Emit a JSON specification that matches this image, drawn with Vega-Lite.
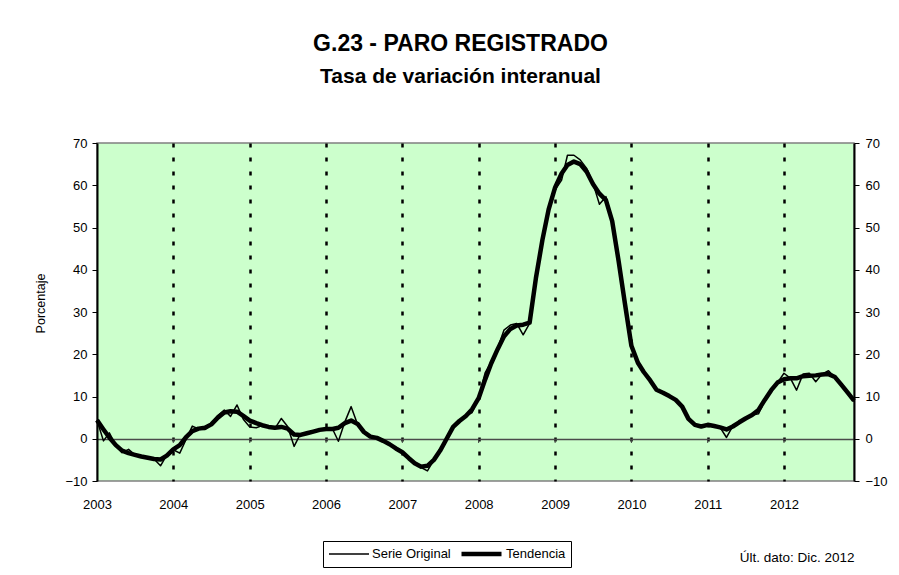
{
  "$schema": "https://vega.github.io/schema/vega-lite/v6.json",
  "width": 757,
  "height": 338,
  "autosize": {"type": "none"},
  "padding": {"left": 97, "top": 143, "right": 45, "bottom": 94},
  "background": "white",
  "config": {
    "font": "Liberation Sans",
    "view": {"fill": "#CCFFCC", "stroke": "#808080", "strokeWidth": 1.5}
  },
  "title": {
    "text": "G.23 - PARO REGISTRADO",
    "subtitle": "Tasa de variación interanual",
    "anchor": "middle",
    "frame": "group",
    "dx": -15,
    "offset": 50,
    "font": "Liberation Sans",
    "fontSize": 23,
    "fontWeight": "bold",
    "color": "black",
    "subtitleFont": "Liberation Sans",
    "subtitleFontSize": 21,
    "subtitleFontWeight": "bold",
    "subtitleColor": "black",
    "subtitlePadding": 10
  },
  "datasets": {
    "years": [
      {"fecha": "2004-01-01"}, {"fecha": "2005-01-01"}, {"fecha": "2006-01-01"},
      {"fecha": "2007-01-01"}, {"fecha": "2008-01-01"}, {"fecha": "2009-01-01"},
      {"fecha": "2010-01-01"}, {"fecha": "2011-01-01"}, {"fecha": "2012-01-01"}
    ],
    "paro": [
      {"fecha": "2003-01-01", "Serie Original": 4.4, "Tendencia": 4.4},
      {"fecha": "2003-02-01", "Serie Original": -0.5, "Tendencia": 2.2},
      {"fecha": "2003-03-01", "Serie Original": 1.4, "Tendencia": 0.3},
      {"fecha": "2003-04-01", "Serie Original": -1.5, "Tendencia": -1.5},
      {"fecha": "2003-05-01", "Serie Original": -3.3, "Tendencia": -2.8},
      {"fecha": "2003-06-01", "Serie Original": -2.5, "Tendencia": -3.4},
      {"fecha": "2003-07-01", "Serie Original": -3.8, "Tendencia": -3.8},
      {"fecha": "2003-08-01", "Serie Original": -4.2, "Tendencia": -4.2},
      {"fecha": "2003-09-01", "Serie Original": -4.5, "Tendencia": -4.5},
      {"fecha": "2003-10-01", "Serie Original": -4.8, "Tendencia": -4.8},
      {"fecha": "2003-11-01", "Serie Original": -6.4, "Tendencia": -4.9},
      {"fecha": "2003-12-01", "Serie Original": -3.8, "Tendencia": -4.0},
      {"fecha": "2004-01-01", "Serie Original": -2.6, "Tendencia": -2.5},
      {"fecha": "2004-02-01", "Serie Original": -3.4, "Tendencia": -1.5},
      {"fecha": "2004-03-01", "Serie Original": -0.3, "Tendencia": 0.3},
      {"fecha": "2004-04-01", "Serie Original": 3.0, "Tendencia": 1.8},
      {"fecha": "2004-05-01", "Serie Original": 2.3, "Tendencia": 2.4},
      {"fecha": "2004-06-01", "Serie Original": 2.2, "Tendencia": 2.6},
      {"fecha": "2004-07-01", "Serie Original": 3.5, "Tendencia": 3.4},
      {"fecha": "2004-08-01", "Serie Original": 5.5, "Tendencia": 5.0},
      {"fecha": "2004-09-01", "Serie Original": 6.8, "Tendencia": 6.2},
      {"fecha": "2004-10-01", "Serie Original": 5.3, "Tendencia": 6.5},
      {"fecha": "2004-11-01", "Serie Original": 8.0, "Tendencia": 6.4},
      {"fecha": "2004-12-01", "Serie Original": 4.6, "Tendencia": 5.4},
      {"fecha": "2005-01-01", "Serie Original": 2.8, "Tendencia": 4.3},
      {"fecha": "2005-02-01", "Serie Original": 2.6, "Tendencia": 3.7},
      {"fecha": "2005-03-01", "Serie Original": 3.1, "Tendencia": 3.2},
      {"fecha": "2005-04-01", "Serie Original": 2.7, "Tendencia": 2.8},
      {"fecha": "2005-05-01", "Serie Original": 2.4, "Tendencia": 2.6},
      {"fecha": "2005-06-01", "Serie Original": 4.8, "Tendencia": 2.8},
      {"fecha": "2005-07-01", "Serie Original": 2.9, "Tendencia": 2.4},
      {"fecha": "2005-08-01", "Serie Original": -1.8, "Tendencia": 1.0},
      {"fecha": "2005-09-01", "Serie Original": 1.2, "Tendencia": 0.9},
      {"fecha": "2005-10-01", "Serie Original": 1.3, "Tendencia": 1.3},
      {"fecha": "2005-11-01", "Serie Original": 1.7, "Tendencia": 1.7},
      {"fecha": "2005-12-01", "Serie Original": 2.1, "Tendencia": 2.1},
      {"fecha": "2006-01-01", "Serie Original": 2.4, "Tendencia": 2.3},
      {"fecha": "2006-02-01", "Serie Original": 2.3, "Tendencia": 2.3},
      {"fecha": "2006-03-01", "Serie Original": -0.6, "Tendencia": 2.6},
      {"fecha": "2006-04-01", "Serie Original": 4.0, "Tendencia": 3.7},
      {"fecha": "2006-05-01", "Serie Original": 7.6, "Tendencia": 4.3},
      {"fecha": "2006-06-01", "Serie Original": 3.4, "Tendencia": 3.5},
      {"fecha": "2006-07-01", "Serie Original": 1.4, "Tendencia": 1.6},
      {"fecha": "2006-08-01", "Serie Original": 0.4, "Tendencia": 0.5},
      {"fecha": "2006-09-01", "Serie Original": 0.3, "Tendencia": 0.2},
      {"fecha": "2006-10-01", "Serie Original": -0.5, "Tendencia": -0.5},
      {"fecha": "2006-11-01", "Serie Original": -1.3, "Tendencia": -1.3},
      {"fecha": "2006-12-01", "Serie Original": -2.3, "Tendencia": -2.3},
      {"fecha": "2007-01-01", "Serie Original": -3.3, "Tendencia": -3.2},
      {"fecha": "2007-02-01", "Serie Original": -4.7, "Tendencia": -4.6},
      {"fecha": "2007-03-01", "Serie Original": -5.8, "Tendencia": -5.8},
      {"fecha": "2007-04-01", "Serie Original": -6.8, "Tendencia": -6.6},
      {"fecha": "2007-05-01", "Serie Original": -7.6, "Tendencia": -6.4},
      {"fecha": "2007-06-01", "Serie Original": -5.0, "Tendencia": -5.0},
      {"fecha": "2007-07-01", "Serie Original": -2.8, "Tendencia": -2.8},
      {"fecha": "2007-08-01", "Serie Original": 0.2, "Tendencia": 0.0},
      {"fecha": "2007-09-01", "Serie Original": 3.0, "Tendencia": 2.8},
      {"fecha": "2007-10-01", "Serie Original": 4.2, "Tendencia": 4.2},
      {"fecha": "2007-11-01", "Serie Original": 5.4, "Tendencia": 5.4},
      {"fecha": "2007-12-01", "Serie Original": 6.2, "Tendencia": 7.0},
      {"fecha": "2008-01-01", "Serie Original": 9.8, "Tendencia": 9.6},
      {"fecha": "2008-02-01", "Serie Original": 15.6, "Tendencia": 14.0},
      {"fecha": "2008-03-01", "Serie Original": 18.2, "Tendencia": 17.8},
      {"fecha": "2008-04-01", "Serie Original": 21.4, "Tendencia": 21.2},
      {"fecha": "2008-05-01", "Serie Original": 25.7, "Tendencia": 24.2},
      {"fecha": "2008-06-01", "Serie Original": 26.9, "Tendencia": 26.0},
      {"fecha": "2008-07-01", "Serie Original": 27.3, "Tendencia": 26.8},
      {"fecha": "2008-08-01", "Serie Original": 24.6, "Tendencia": 27.0},
      {"fecha": "2008-09-01", "Serie Original": 27.3, "Tendencia": 27.5},
      {"fecha": "2008-10-01", "Serie Original": 38.5, "Tendencia": 38.0},
      {"fecha": "2008-11-01", "Serie Original": 47.2, "Tendencia": 47.0},
      {"fecha": "2008-12-01", "Serie Original": 53.9, "Tendencia": 54.3},
      {"fecha": "2009-01-01", "Serie Original": 58.9, "Tendencia": 59.5},
      {"fecha": "2009-02-01", "Serie Original": 61.2, "Tendencia": 62.8},
      {"fecha": "2009-03-01", "Serie Original": 67.1, "Tendencia": 64.8},
      {"fecha": "2009-04-01", "Serie Original": 67.1, "Tendencia": 65.6},
      {"fecha": "2009-05-01", "Serie Original": 66.0, "Tendencia": 65.0},
      {"fecha": "2009-06-01", "Serie Original": 64.0, "Tendencia": 63.2},
      {"fecha": "2009-07-01", "Serie Original": 60.5, "Tendencia": 60.3},
      {"fecha": "2009-08-01", "Serie Original": 55.5, "Tendencia": 58.0},
      {"fecha": "2009-09-01", "Serie Original": 57.3, "Tendencia": 56.5},
      {"fecha": "2009-10-01", "Serie Original": 52.0, "Tendencia": 51.5},
      {"fecha": "2009-11-01", "Serie Original": 42.0, "Tendencia": 42.0},
      {"fecha": "2009-12-01", "Serie Original": 32.0, "Tendencia": 32.0},
      {"fecha": "2010-01-01", "Serie Original": 21.5, "Tendencia": 22.0},
      {"fecha": "2010-02-01", "Serie Original": 17.8, "Tendencia": 18.0},
      {"fecha": "2010-03-01", "Serie Original": 15.7, "Tendencia": 15.8},
      {"fecha": "2010-04-01", "Serie Original": 13.6, "Tendencia": 13.8},
      {"fecha": "2010-05-01", "Serie Original": 11.5, "Tendencia": 11.6},
      {"fecha": "2010-06-01", "Serie Original": 10.9, "Tendencia": 10.9},
      {"fecha": "2010-07-01", "Serie Original": 10.0, "Tendencia": 10.1},
      {"fecha": "2010-08-01", "Serie Original": 9.0, "Tendencia": 9.2},
      {"fecha": "2010-09-01", "Serie Original": 7.5, "Tendencia": 7.6},
      {"fecha": "2010-10-01", "Serie Original": 4.6, "Tendencia": 4.7},
      {"fecha": "2010-11-01", "Serie Original": 3.3, "Tendencia": 3.3},
      {"fecha": "2010-12-01", "Serie Original": 2.8, "Tendencia": 2.9},
      {"fecha": "2011-01-01", "Serie Original": 3.3, "Tendencia": 3.3},
      {"fecha": "2011-02-01", "Serie Original": 3.0, "Tendencia": 3.0},
      {"fecha": "2011-03-01", "Serie Original": 2.7, "Tendencia": 2.7},
      {"fecha": "2011-04-01", "Serie Original": 0.3, "Tendencia": 2.2},
      {"fecha": "2011-05-01", "Serie Original": 3.0, "Tendencia": 2.9},
      {"fecha": "2011-06-01", "Serie Original": 4.0, "Tendencia": 3.9},
      {"fecha": "2011-07-01", "Serie Original": 4.8, "Tendencia": 4.8},
      {"fecha": "2011-08-01", "Serie Original": 5.6, "Tendencia": 5.6},
      {"fecha": "2011-09-01", "Serie Original": 5.9, "Tendencia": 6.8},
      {"fecha": "2011-10-01", "Serie Original": 9.2, "Tendencia": 9.2},
      {"fecha": "2011-11-01", "Serie Original": 11.5, "Tendencia": 11.5},
      {"fecha": "2011-12-01", "Serie Original": 13.3, "Tendencia": 13.3},
      {"fecha": "2012-01-01", "Serie Original": 15.5, "Tendencia": 14.1},
      {"fecha": "2012-02-01", "Serie Original": 14.3, "Tendencia": 14.3},
      {"fecha": "2012-03-01", "Serie Original": 11.5, "Tendencia": 14.3},
      {"fecha": "2012-04-01", "Serie Original": 15.3, "Tendencia": 14.8},
      {"fecha": "2012-05-01", "Serie Original": 15.5, "Tendencia": 14.9},
      {"fecha": "2012-06-01", "Serie Original": 13.5, "Tendencia": 15.0},
      {"fecha": "2012-07-01", "Serie Original": 15.3, "Tendencia": 15.2},
      {"fecha": "2012-08-01", "Serie Original": 16.1, "Tendencia": 15.3},
      {"fecha": "2012-09-01", "Serie Original": 14.5, "Tendencia": 14.6},
      {"fecha": "2012-10-01", "Serie Original": 12.7, "Tendencia": 12.8},
      {"fecha": "2012-11-01", "Serie Original": 10.9, "Tendencia": 10.9},
      {"fecha": "2012-12-01", "Serie Original": 8.8, "Tendencia": 9.0}
    ]
  },
  "encoding": {
    "x": {
      "field": "fecha",
      "type": "temporal",
      "scale": {"type": "utc", "domain": [1041379200000, 1354320000000]},
      "axis": {
        "values": [1041379200000, 1072915200000, 1104537600000, 1136073600000, 1167609600000, 1199145600000, 1230768000000, 1262304000000, 1293840000000, 1325376000000],
        "format": "%Y",
        "formatType": "utc",
        "title": "Últ. dato: Dic. 2012",
        "titleX": 757,
        "titleY": 76,
        "titleAlign": "right",
        "titleBaseline": "middle",
        "titleFontSize": 13.5,
        "titleFontWeight": "normal",
        "titleColor": "black",
        "domain": false,
        "ticks": false,
        "labelPadding": 17,
        "labelFontSize": 13,
        "labelColor": "black",
        "labelFlush": false,
        "labelOverlap": false,
        "grid": true,
        "gridColor": "black",
        "gridDash": [4, 10],
        "gridWidth": 2.5,
        "gridOpacity": {"condition": {"test": "datum.value <= 1041379200000", "value": 0}, "value": 1}
      }
    }
  },
  "layer": [
    {
      "data": {"name": "paro"},
      "transform": [{"fold": ["Serie Original", "Tendencia"], "as": ["serie", "valor"]}],
      "mark": {"type": "line", "strokeJoin": "round"},
      "encoding": {
        "y": {
          "field": "valor",
          "type": "quantitative",
          "scale": {"domain": [-10, 70], "nice": false, "zero": false},
          "axis": {
            "orient": "left",
            "values": [-10, 0, 10, 20, 30, 40, 50, 60, 70],
            "title": "Porcentaje",
            "titleFontSize": 12.5,
            "titleFontWeight": "normal",
            "titleColor": "black",
            "titleX": -57,
            "titleY": 160,
            "titleAngle": -90,
            "titleAlign": "center",
            "titleBaseline": "middle",
            "domainColor": "black",
            "domainWidth": 2,
            "tickColor": "black",
            "tickSize": 5,
            "labelPadding": 5,
            "labelFontSize": 13,
            "labelColor": "black",
            "grid": true,
            "gridColor": "#4a4a4a",
            "gridWidth": 1.5,
            "gridOpacity": {"condition": {"test": "datum.value === 0", "value": 1}, "value": 0}
          }
        },
        "color": {
          "field": "serie",
          "type": "ordinal",
          "scale": {"domain": ["Serie Original", "Tendencia"], "range": ["black", "black"]},
          "legend": {
            "title": null,
            "orient": "none",
            "legendX": 226,
            "legendY": 398,
            "direction": "horizontal",
            "symbolType": "stroke",
            "symbolSize": 1600,
            "clipHeight": 16,
            "labelFontSize": 13,
            "labelColor": "black",
            "labelOffset": 2,
            "strokeColor": "black",
            "fillColor": "white",
            "padding": 5,
            "columnPadding": 8
          }
        },
        "strokeWidth": {
          "field": "serie",
          "type": "ordinal",
          "scale": {"domain": ["Serie Original", "Tendencia"], "range": [1.5, 4.5]},
          "legend": {
            "title": null,
            "orient": "none",
            "legendX": 226,
            "legendY": 398,
            "direction": "horizontal",
            "symbolType": "stroke",
            "symbolSize": 1600,
            "clipHeight": 16,
            "labelFontSize": 13,
            "labelColor": "black",
            "labelOffset": 2,
            "strokeColor": "black",
            "fillColor": "white",
            "padding": 5,
            "columnPadding": 8
          }
        }
      }
    },
    {
      "data": {"name": "years"},
      "mark": {"type": "rule", "color": "#404040", "strokeWidth": 1},
      "encoding": {
        "y": {"datum": 0, "type": "quantitative", "axis": null},
        "y2": {"datum": -1}
      }
    },
    {
      "data": {"name": "paro"},
      "transform": [{"fold": ["Serie Original", "Tendencia"], "as": ["serie", "valor"]}],
      "mark": {"type": "point", "opacity": 0},
      "encoding": {
        "y": {
          "field": "valor",
          "type": "quantitative",
          "axis": {
            "orient": "right",
            "values": [-10, 0, 10, 20, 30, 40, 50, 60, 70],
            "title": null,
            "domainColor": "black",
            "domainWidth": 2,
            "tickColor": "black",
            "tickSize": 5,
            "labelPadding": 6,
            "labelFontSize": 13,
            "labelColor": "black",
            "grid": false
          }
        }
      }
    }
  ],
  "resolve": {"axis": {"y": "independent"}}
}
